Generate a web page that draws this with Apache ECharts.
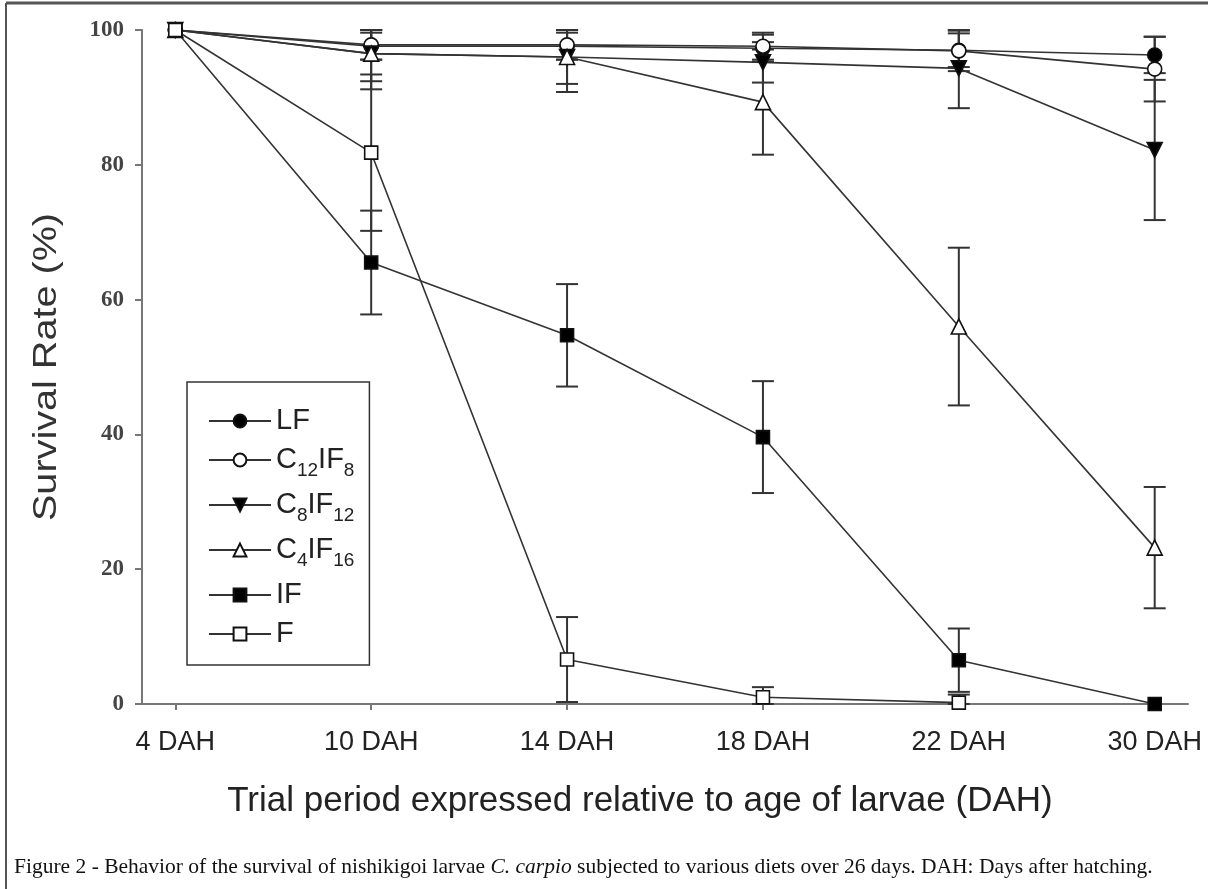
<!DOCTYPE html>
<html lang="en">
<head>
<meta charset="UTF-8">
<title>Survival rate of nishikigoi larvae</title>
<script src="https://cdn.jsdelivr.net/npm/echarts@6.0.0/dist/echarts.min.js"></script>
<style>
  html, body { margin: 0; padding: 0; background: #fff; }
  #main { width: 1208px; height: 889px; }
</style>
</head>
<body>
<div id="main"></div>
<script>
// categories (days after hatching)
var categories = ['4 DAH', '10 DAH', '14 DAH', '18 DAH', '22 DAH', '30 DAH'];

// survival rate (%) per diet
var LF     = [100, 97.6, 97.6, 97.3, 97.0, 96.3];
var C12IF8 = [100, 97.8, 97.8, 97.6, 96.9, 94.2];
var C8IF12 = [100, 96.5, 96.0, 95.2, 94.3, 82.2];
var C4IF16 = [100, 96.5, 96.0, 89.3, 56.0, 23.2];
var IF     = [100, 65.5, 54.7, 39.6, 6.5, 0];
var F      = [100, 81.8, 6.6, 1.0, 0.2, null];

// error bar half widths (%)
var errLF     = [0, 2.0, 2.0, 2.0, 2.5, 2.7];
var errC12IF8 = [0, 2.2, 2.2, 2.0, 3.0, 4.8];
var errC8IF12 = [0, 4.1, 4.0, 3.0, 5.9, 10.4];
var errC4IF16 = [0, 5.3, 5.2, 7.8, 11.7, 9.0];
var errIF     = [0, 7.7, 7.6, 8.3, 4.7, 0];
var errF      = [0, 11.6, 6.3, 1.5, 1.2, null];

var yTicks = [0, 20, 40, 60, 80, 100];

var chartDom = document.getElementById('main');
var myChart = echarts.init(chartDom);

var groups = [
  { name: 'LF',     data: LF,     err: errLF,     symbol: 'circle',   size: 14, fill: '#000', rot: 0 },
  { name: 'C12IF8', data: C12IF8, err: errC12IF8, symbol: 'circle',   size: 14, fill: '#fff', rot: 0 },
  { name: 'C8IF12', data: C8IF12, err: errC8IF12, symbol: 'triangle', size: 15, fill: '#000', rot: 180 },
  { name: 'C4IF16', data: C4IF16, err: errC4IF16, symbol: 'triangle', size: 15, fill: '#fff', rot: 0 },
  { name: 'IF',     data: IF,     err: errIF,     symbol: 'rect',     size: 13, fill: '#000', rot: 0 },
  { name: 'F',      data: F,      err: errF,      symbol: 'rect',     size: 13, fill: '#fff', rot: 0 }
];

// error bars: [x, low, high]
var errData = [];
groups.forEach(function (g) {
  g.data.forEach(function (v, i) {
    if (v == null || !g.err[i]) return;
    errData.push([i, Math.max(0, v - g.err[i]), Math.min(100, v + g.err[i])]);
  });
});

var series = [{
  type: 'custom',
  name: 'errors',
  data: errData,
  z: 1,
  silent: true,
  renderItem: function (params, api) {
    var x = api.value(0);
    var lo = api.coord([x, api.value(1)]);
    var hi = api.coord([x, api.value(2)]);
    var w = 11;
    var st = { stroke: '#333', lineWidth: 2 };
    return {
      type: 'group',
      children: [
        { type: 'line', shape: { x1: lo[0], y1: lo[1], x2: hi[0], y2: hi[1] }, style: st },
        { type: 'line', shape: { x1: lo[0] - w, y1: lo[1], x2: lo[0] + w, y2: lo[1] }, style: st },
        { type: 'line', shape: { x1: hi[0] - w, y1: hi[1], x2: hi[0] + w, y2: hi[1] }, style: st }
      ]
    };
  }
}];

groups.forEach(function (g) {
  series.push({
    type: 'line',
    name: g.name,
    data: g.data.map(function (v, i) { return v == null ? null : [i, v]; }),
    symbol: g.symbol,
    symbolSize: g.size,
    symbolRotate: g.rot,
    showAllSymbol: true,
    clip: false,
    z: 3,
    lineStyle: { color: '#333', width: 1.6 },
    itemStyle: { color: g.fill, borderColor: '#111', borderWidth: 1.6, opacity: 1 },
    emphasis: { disabled: true }
  });
});

// legend text with subscripts
function richName(name) {
  var m = name.match(/^C(\d+)IF(\d+)$/);
  if (m) return '{n|C}{s|' + m[1] + '}{n|IF}{s|' + m[2] + '}';
  return '{n|' + name + '}';
}

var sans = "'Liberation Sans', Arial, sans-serif";

var option = {
  backgroundColor: '#fff',
  animation: false,
  grid: { left: 142, right: 20, top: 30, bottom: 185 },
  legend: {
    orient: 'vertical',
    left: 187,
    top: 382,
    data: groups.map(function (g) { return g.name; }),
    itemWidth: 62,
    itemHeight: 16,
    itemGap: 10,
    padding: [24, 15, 17, 21],
    borderColor: '#333',
    borderWidth: 1.5,
    selectedMode: false,
    formatter: richName,
    textStyle: {
      color: '#222',
      rich: {
        n: { fontFamily: sans, fontSize: 29, lineHeight: 30, color: '#222', verticalAlign: 'top' },
        s: { fontFamily: sans, fontSize: 19, lineHeight: 18, color: '#222', verticalAlign: 'top', padding: [16, 0, 0, 0] }
      }
    }
  },
  xAxis: {
    type: 'value',
    min: -0.17,
    max: 5.17,
    splitLine: { show: false },
    axisLine: { show: true, onZero: false, lineStyle: { color: '#777', width: 2 } },
    axisTick: { show: true, length: 6, customValues: [0, 1, 2, 3, 4, 5], lineStyle: { color: '#777', width: 2 } },
    axisLabel: {
      customValues: [0, 1, 2, 3, 4, 5],
      formatter: function (v) { return categories[Math.round(v)]; },
      margin: 25,
      fontFamily: sans,
      fontSize: 27,
      color: '#222'
    }
  },
  yAxis: {
    type: 'value',
    min: 0,
    max: 100,
    interval: 20,
    splitLine: { show: false },
    axisLine: { show: true, onZero: false, lineStyle: { color: '#777', width: 2 } },
    axisTick: { show: true, length: 7, lineStyle: { color: '#777', width: 2 } },
    axisLabel: {
      margin: 18,
      fontFamily: "'Liberation Serif', 'Times New Roman', serif",
      fontWeight: 'bold',
      fontSize: 23,
      color: '#444',
      formatter: function (v) { return yTicks.indexOf(v) >= 0 ? String(v) : ''; }
    }
  },
  graphic: [
    { type: 'line', shape: { x1: 6, y1: 3, x2: 1208, y2: 3 }, style: { stroke: '#555', lineWidth: 3 }, silent: true },
    { type: 'line', shape: { x1: 6, y1: 3, x2: 6, y2: 889 }, style: { stroke: '#555', lineWidth: 2 }, silent: true },
    {
      type: 'text', x: 47, y: 367, rotation: Math.PI / 2, scaleX: 1.2, scaleY: 1,
      style: { text: 'Survival Rate (%)', font: '33px ' + sans, fill: '#333', align: 'center', verticalAlign: 'middle' }
    },
    {
      type: 'text', x: 640, y: 801,
      style: { text: 'Trial period expressed relative to age of larvae (DAH)', font: '35px ' + sans, fill: '#222', align: 'center', verticalAlign: 'middle' }
    },
    {
      type: 'text', x: 14, y: 867,
      style: {
        text: '{a|Figure 2 - Behavior of the survival of nishikigoi larvae }{i|C. carpio}{a| subjected to various diets over 26 days. DAH: Days after hatching.}',
        verticalAlign: 'middle',
        rich: {
          a: { fontFamily: "'Liberation Serif', 'Times New Roman', serif", fontSize: 21.5, fill: '#111' },
          i: { fontFamily: "'Liberation Serif', 'Times New Roman', serif", fontSize: 21.5, fontStyle: 'italic', fill: '#111' }
        }
      }
    }
  ],
  series: series
};

myChart.setOption(option);
</script>
</body>
</html>
